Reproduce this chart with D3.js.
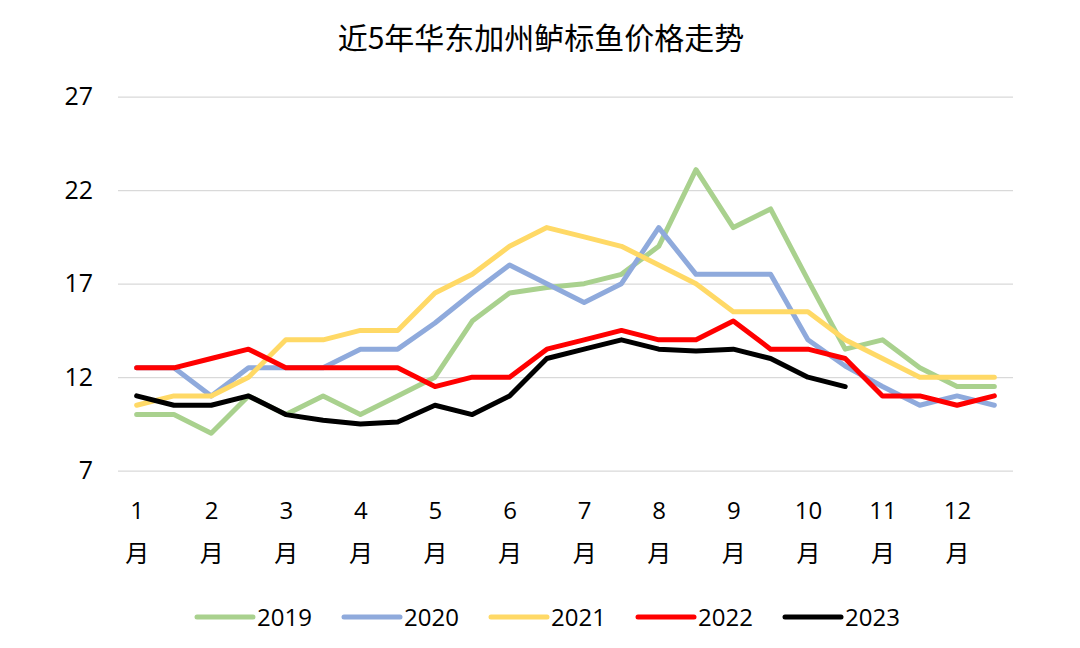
<!DOCTYPE html>
<html>
<head>
<meta charset="utf-8">
<script src="https://cdn.jsdelivr.net/npm/d3@7/dist/d3.min.js"></script>
<style>
  html, body { margin: 0; padding: 0; background: #ffffff; }
  svg { display: block; }
  text { font-family: "Open Sans", "Noto Sans CJK SC", sans-serif; fill: #000; }
</style>
</head>
<body>
<svg id="chart" width="1080" height="648"></svg>
<script>
// ---- data ----
const title = "近5年华东加州鲈标鱼价格走势";
const periods = ["1上","1下","2上","2下","3上","3下","4上","4下","5上","5下","6上","6下",
                 "7上","7下","8上","8下","9上","9下","10上","10下","11上","11下","12上","12下"];
const monthLabels = ["1","2","3","4","5","6","7","8","9","10","11","12"];
const yTicks = [7, 12, 17, 22, 27];
const seriesNames = ["2019", "2020", "2021", "2022", "2023"];
const v2019 = [10,10,9,11,10,11,10,11,12,15,16.5,16.8,17,17.5,19,23.1,20,21,17.2,13.5,14,12.5,11.5,11.5];
const v2020 = [12.5,12.5,11,12.5,12.5,12.5,13.5,13.5,14.9,16.5,18,17,16,17,20,17.5,17.5,17.5,14,12.6,11.5,10.5,11,10.5];
const v2021 = [10.5,11,11,12,14,14,14.5,14.5,16.5,17.5,19,20,19.5,19,18,17,15.5,15.5,15.5,14,13,12,12,12];
const v2022 = [12.5,12.5,13,13.5,12.5,12.5,12.5,12.5,11.5,12,12,13.5,14,14.5,14,14,15,13.5,13.5,13,11,11,10.5,11];
const v2023 = [11,10.5,10.5,11,10,9.7,9.5,9.6,10.5,10,11,13,13.5,14,13.5,13.4,13.5,13,12,11.5];
const colors = ["#a9d18e", "#8faadc", "#ffd966", "#ff0000", "#000000"];

const allSeries = [v2019, v2020, v2021, v2022, v2023].map((vals, i) => ({
  name: seriesNames[i], color: colors[i],
  points: vals.map((v, j) => ({ p: periods[j], v }))
}));

// ---- layout ----
const svg = d3.select("#chart");
const plot = { left: 118, right: 1013, top: 96.7, bottom: 470.7 };

const x = d3.scalePoint().domain(periods).range([plot.left, plot.right]).padding(0.5);
const y = d3.scaleLinear().domain([7, 27]).range([plot.bottom, plot.top]);

// title
svg.append("text")
  .attr("x", 541).attr("y", 49)
  .attr("text-anchor", "middle")
  .style("font-family", "'Noto Sans CJK SC', sans-serif")
  .style("font-size", "30px")
  .text(title);

// y axis + gridlines
const yAxis = d3.axisLeft(y)
  .tickValues(yTicks)
  .tickSize(-(plot.right - plot.left))
  .tickPadding(25)
  .tickFormat(d3.format("d"));
const gy = svg.append("g").attr("transform", `translate(${plot.left},0)`).call(yAxis);
gy.select(".domain").remove();
gy.selectAll(".tick line").attr("stroke", "#d9d9d9").attr("stroke-width", 1.3);
gy.selectAll(".tick text").style("font-size", "25px").attr("fill", "#000");

// x axis labels (month number over 月)
const monthTicks = periods.filter((d, i) => i % 2 === 0);
const xAxis = d3.axisBottom(x).tickValues(monthTicks).tickSize(0).tickFormat("");
const gx = svg.append("g").attr("transform", `translate(0,${plot.bottom})`).call(xAxis);
gx.select(".domain").remove();
gx.selectAll(".tick").each(function(d, i) {
  const t = d3.select(this).append("text")
    .attr("text-anchor", "middle")
    .style("font-size", "24px");
  t.append("tspan").attr("x", 0).attr("y", 48).text(monthLabels[i]);
  t.append("tspan").attr("x", 0).attr("y", 91)
    .style("font-family", "'Noto Sans CJK SC', sans-serif").text("月");
});

// lines
const line = d3.line().x(d => x(d.p)).y(d => y(d.v));
svg.append("g").selectAll("path")
  .data(allSeries)
  .join("path")
  .attr("d", d => line(d.points))
  .attr("fill", "none")
  .attr("stroke", d => d.color)
  .attr("stroke-width", 5)
  .attr("stroke-linejoin", "round")
  .attr("stroke-linecap", "round");

// legend
const legend = svg.append("g").attr("transform", "translate(197,617)");
const item = legend.selectAll("g").data(allSeries).join("g")
  .attr("transform", (d, i) => `translate(${i * 147},0)`);
item.append("line")
  .attr("x1", 0).attr("x2", 56).attr("y1", 0).attr("y2", 0)
  .attr("stroke", d => d.color).attr("stroke-width", 5).attr("stroke-linecap", "round");
item.append("text")
  .attr("x", 60).attr("y", 9)
  .style("font-size", "24px")
  .text(d => d.name);
</script>
</body>
</html>
